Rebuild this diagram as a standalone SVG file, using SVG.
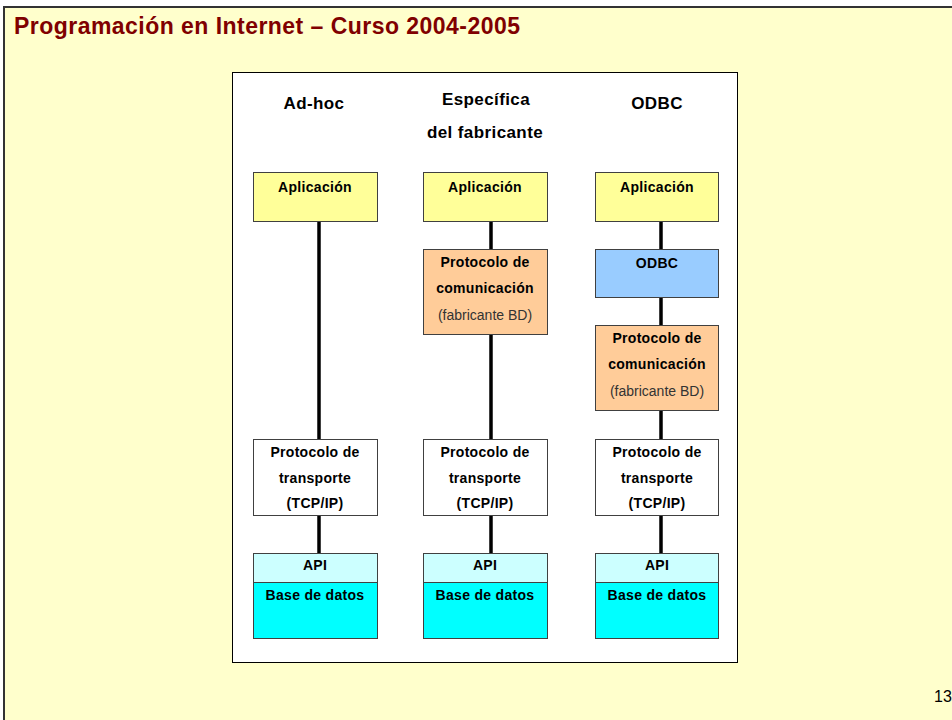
<svg xmlns="http://www.w3.org/2000/svg" width="952" height="720" viewBox="0 0 952 720">
<defs>
<style>
.frame{fill:#FFFFCC;stroke:#333;stroke-width:2}
.panel{fill:#fff;stroke:#000;stroke-width:1}
.box{stroke:#404040;stroke-width:1}
.app{fill:#FFFF99}
.com{fill:#FFCC99}
.odbc{fill:#99CCFF}
.tr{fill:#fff}
.api{fill:#CCFFFF}
.bd{fill:#00FFFF}
.t{font-family:"Liberation Sans",Arial,sans-serif;font-size:14px;font-weight:bold;fill:#000;text-anchor:middle;letter-spacing:0.3px}
.n{font-weight:normal;fill:#333;letter-spacing:0}
.h{font-family:"Liberation Sans",Arial,sans-serif;font-size:17px;font-weight:bold;fill:#000;text-anchor:middle;letter-spacing:0.4px}
.conn line{stroke:#000;stroke-width:3.5}
</style>
</defs>
<rect x="0" y="0" width="952" height="720" fill="#fff"/>
<rect class="frame" x="4" y="7" width="970" height="730"/>
<text x="14" y="34" font-family="'Liberation Sans',Arial,sans-serif" font-size="23" font-weight="bold" fill="#800000" textLength="506" lengthAdjust="spacing">Programación en Internet – Curso 2004-2005</text>
<rect class="panel" x="232.5" y="72.5" width="505" height="590"/>
<g id="headers">
<text class="h" x="314" y="109">Ad-hoc</text>
<text class="h" x="486" y="105">Específica</text>
<text class="h" x="485" y="138">del fabricante</text>
<text class="h" x="657" y="109">ODBC</text>
</g>
<g class="conn" id="connectors">
<line x1="319" y1="221" x2="319" y2="439"/>
<line x1="319" y1="515" x2="319" y2="553"/>
<line x1="491" y1="221" x2="491" y2="249"/>
<line x1="491" y1="334" x2="491" y2="439"/>
<line x1="491" y1="515" x2="491" y2="553"/>
<line x1="661" y1="221" x2="661" y2="249"/>
<line x1="661" y1="297" x2="661" y2="325"/>
<line x1="661" y1="410" x2="661" y2="439"/>
<line x1="661" y1="515" x2="661" y2="553"/>
</g>
<g id="app1"><rect class="box app" x="253.5" y="172.5" width="124" height="49"/><text class="t" x="315" y="192">Aplicación</text></g>
<g id="app2"><rect class="box app" x="423.5" y="172.5" width="124" height="49"/><text class="t" x="485" y="192">Aplicación</text></g>
<g id="app3"><rect class="box app" x="595.5" y="172.5" width="123" height="49"/><text class="t" x="657" y="192">Aplicación</text></g>
<g id="com2"><rect class="box com" x="423.5" y="249.5" width="124" height="85"/><text class="t" x="485" y="267">Protocolo de</text><text class="t" x="485" y="293">comunicación</text><text class="t n" x="485" y="320">(fabricante BD)</text></g>
<g id="odbc3"><rect class="box odbc" x="595.5" y="249.5" width="123" height="48"/><text class="t" x="657" y="268">ODBC</text></g>
<g id="com3"><rect class="box com" x="595.5" y="325.5" width="123" height="85"/><text class="t" x="657" y="343">Protocolo de</text><text class="t" x="657" y="369">comunicación</text><text class="t n" x="657" y="396">(fabricante BD)</text></g>
<g id="tr1"><rect class="box tr" x="253.5" y="439.5" width="124" height="76"/><text class="t" x="315" y="457">Protocolo de</text><text class="t" x="315" y="483">transporte</text><text class="t" x="315" y="508">(TCP/IP)</text></g>
<g id="tr2"><rect class="box tr" x="423.5" y="439.5" width="124" height="76"/><text class="t" x="485" y="457">Protocolo de</text><text class="t" x="485" y="483">transporte</text><text class="t" x="485" y="508">(TCP/IP)</text></g>
<g id="tr3"><rect class="box tr" x="595.5" y="439.5" width="123" height="76"/><text class="t" x="657" y="457">Protocolo de</text><text class="t" x="657" y="483">transporte</text><text class="t" x="657" y="508">(TCP/IP)</text></g>
<g id="db1"><rect class="box api" x="253.5" y="553.5" width="124" height="29"/><rect class="box bd" x="253.5" y="582.5" width="124" height="56"/><text class="t" x="315" y="570">API</text><text class="t" x="315" y="600">Base de datos</text></g>
<g id="db2"><rect class="box api" x="423.5" y="553.5" width="124" height="29"/><rect class="box bd" x="423.5" y="582.5" width="124" height="56"/><text class="t" x="485" y="570">API</text><text class="t" x="485" y="600">Base de datos</text></g>
<g id="db3"><rect class="box api" x="595.5" y="553.5" width="123" height="29"/><rect class="box bd" x="595.5" y="582.5" width="123" height="56"/><text class="t" x="657" y="570">API</text><text class="t" x="657" y="600">Base de datos</text></g>
<text x="934" y="702" font-family="'Liberation Sans',Arial,sans-serif" font-size="16" fill="#000">13</text>
</svg>
